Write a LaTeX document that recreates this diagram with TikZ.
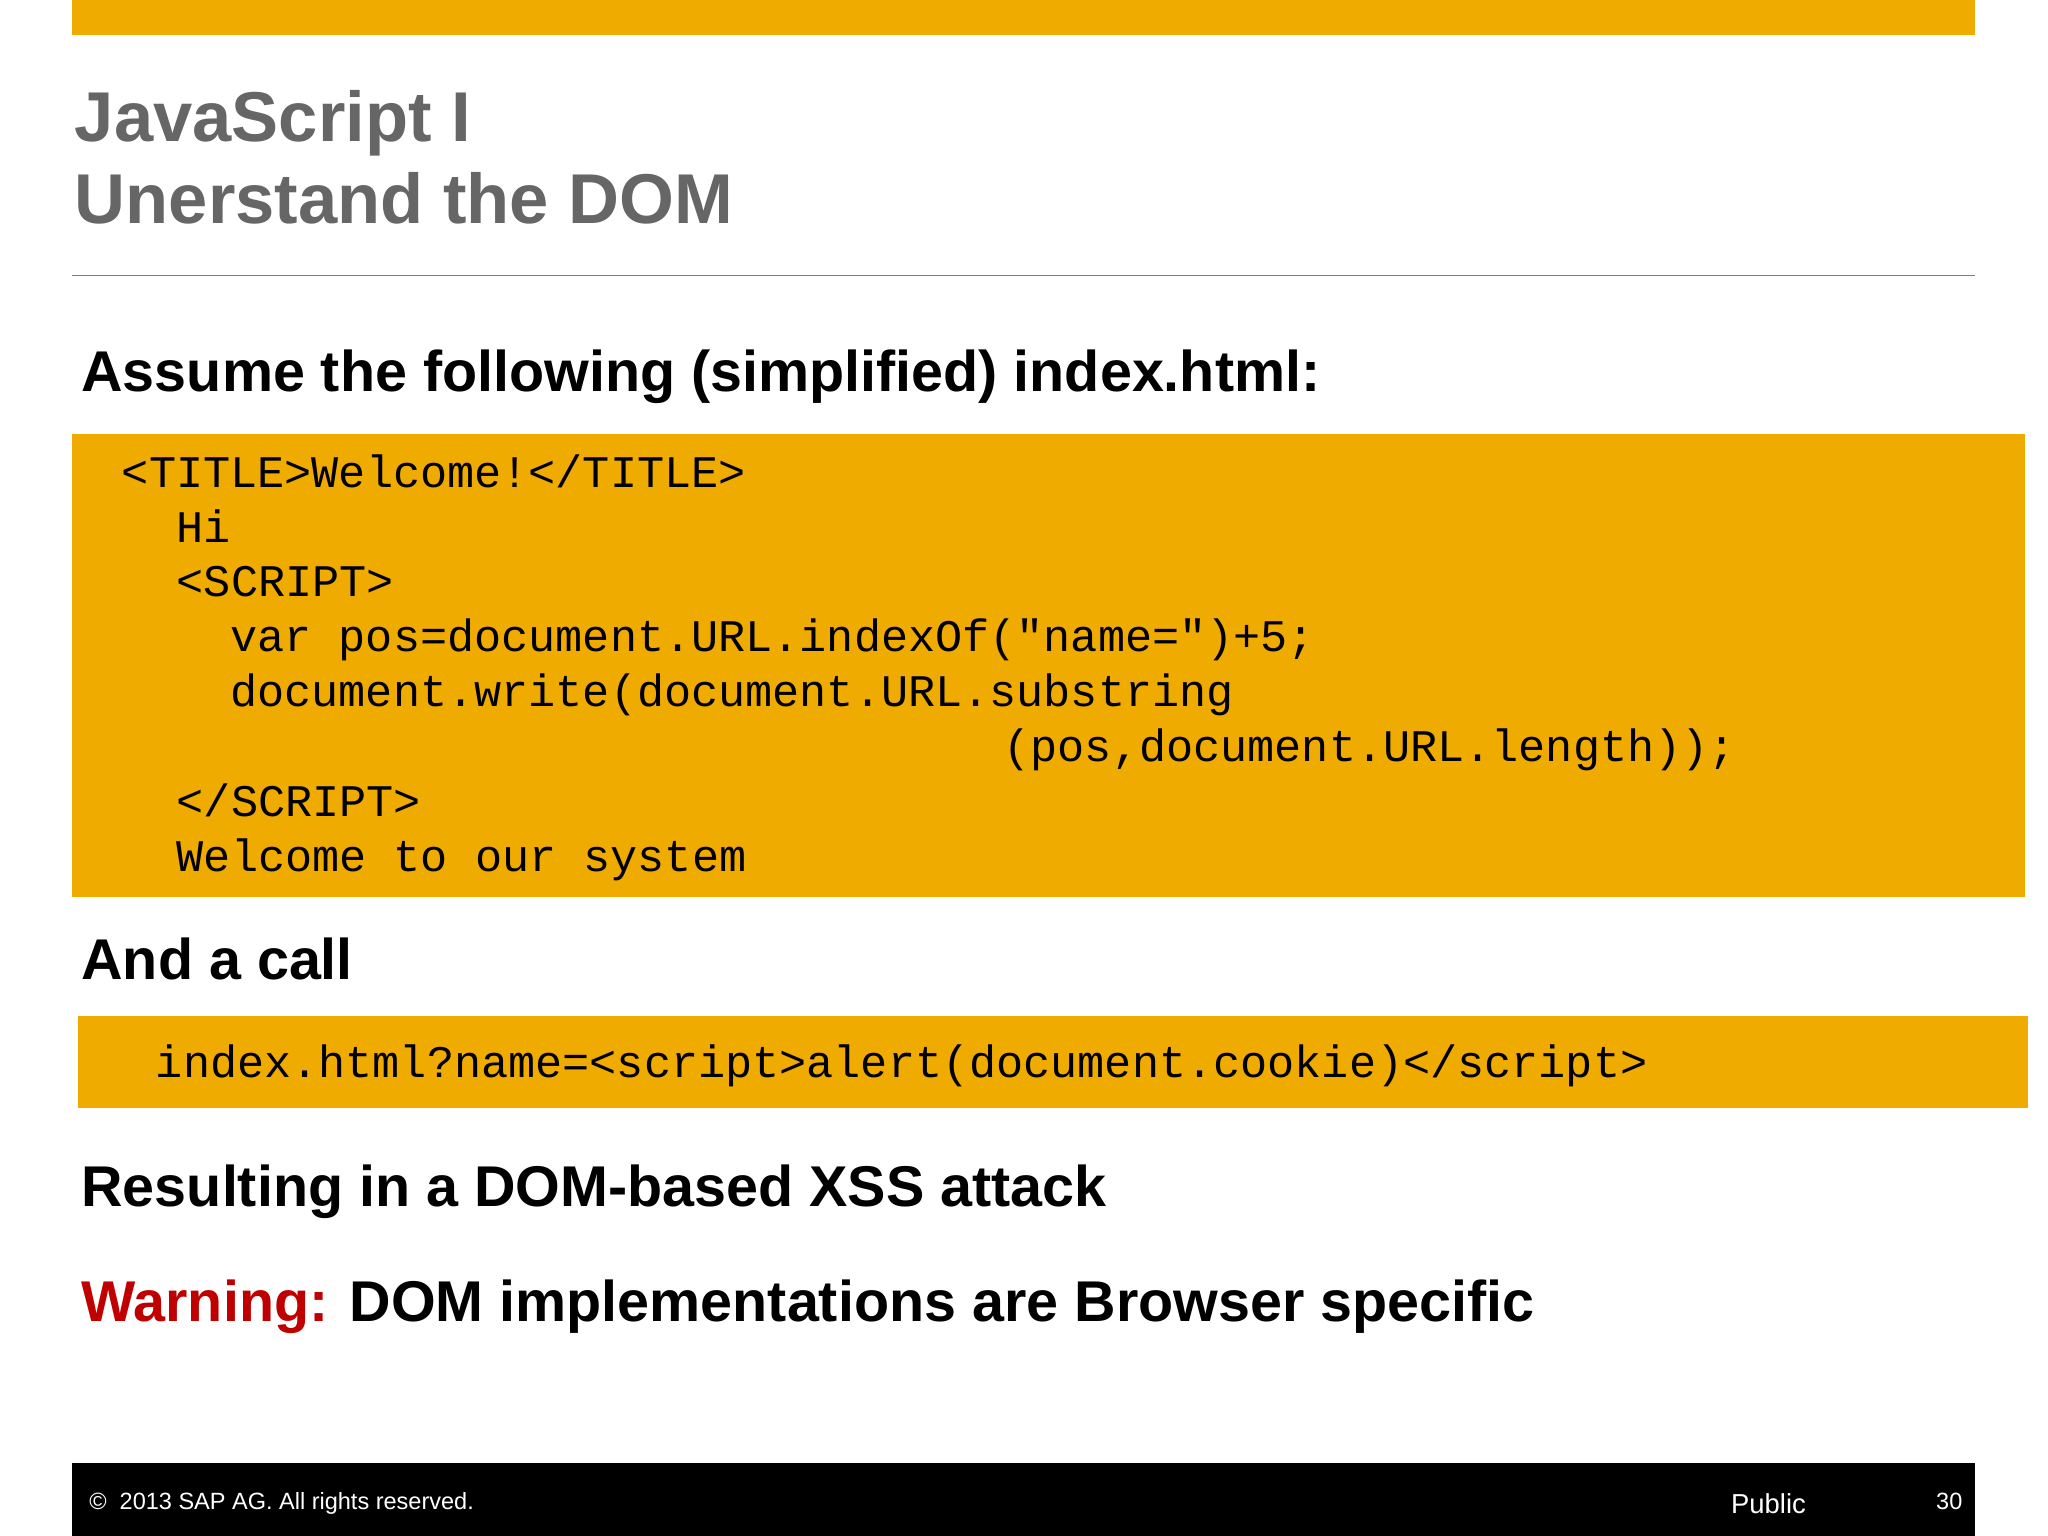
\documentclass[tikz,border=0pt]{standalone}
\usepackage{fontspec}
\setmainfont{Liberation Sans}
\newfontfamily\codefont{Liberation Mono}
\definecolor{sapgold}{HTML}{F0AB00}
\definecolor{titlegray}{HTML}{666666}
\definecolor{warnred}{HTML}{C00000}
\begin{document}
\begin{tikzpicture}[x=0.5pt,y=-0.5pt,
  every node/.style={inner sep=0pt,anchor=base west},
  ttl/.style={font=\fontsize{27}{30}\selectfont\bfseries,text=titlegray},
  head/.style={font=\fontsize{22}{26}\selectfont\bfseries},
  code/.style={font=\codefont\fontsize{17.3}{20}\selectfont},
  foot/.style={font=\fontsize{9}{11}\selectfont,text=white}]
\useasboundingbox (0,0) rectangle (1568,1176);
\fill[white] (0,0) rectangle (1568,1176);
\fill[sapgold] (55,0) rectangle (1512,27);
\node[ttl] (t1) at (57,108) {JavaScript I};
\node[ttl] (t2) at (57,171) {Unerstand the DOM};
\draw[gray,line width=0.6pt] (55,211) -- (1512,211);
\node[head] (h1) at (62,300) {Assume the following (simplified) index.html:};
\fill[sapgold] (55,332) rectangle (1550,687);
\node[code] (c1) at (93,373) {<TITLE>Welcome!</TITLE>};
\node[code] (c2) at (135,415) {Hi};
\node[code] (c3) at (135,457) {<SCRIPT>};
\node[code] (c4) at (176,499) {var pos=document.URL.indexOf("name=")+5;};
\node[code] (c5) at (176,541) {document.write(document.URL.substring};
\node[code] (c6) at (768,583) {(pos,document.URL.length));};
\node[code] (c7) at (135,625) {</SCRIPT>};
\node[code] (c8) at (135,667) {Welcome to our system};
\node[head] (h2) at (62,750) {And a call};
\fill[sapgold] (60,778) rectangle (1553,848);
\node[code] (c9) at (119,825) {index.html?name=<script>alert(document.cookie)</script>};
\node[head] (h3) at (62,924) {Resulting in a DOM-based XSS attack};
\node[head] (h4) at (62,1012) {\textcolor{warnred}{Warning:} DOM implementations are Browser specific};
\fill[black] (55,1120) rectangle (1512,1176);
\node[foot] (f1) at (68,1156) {\copyright{}\ \ 2013 SAP AG. All rights reserved.};
\node[foot,font=\fontsize{10.5}{12}\selectfont] (f2) at (1325,1159) {Public};
\node[foot] (f3) at (1482,1156) {30};
\end{tikzpicture}
\end{document}
